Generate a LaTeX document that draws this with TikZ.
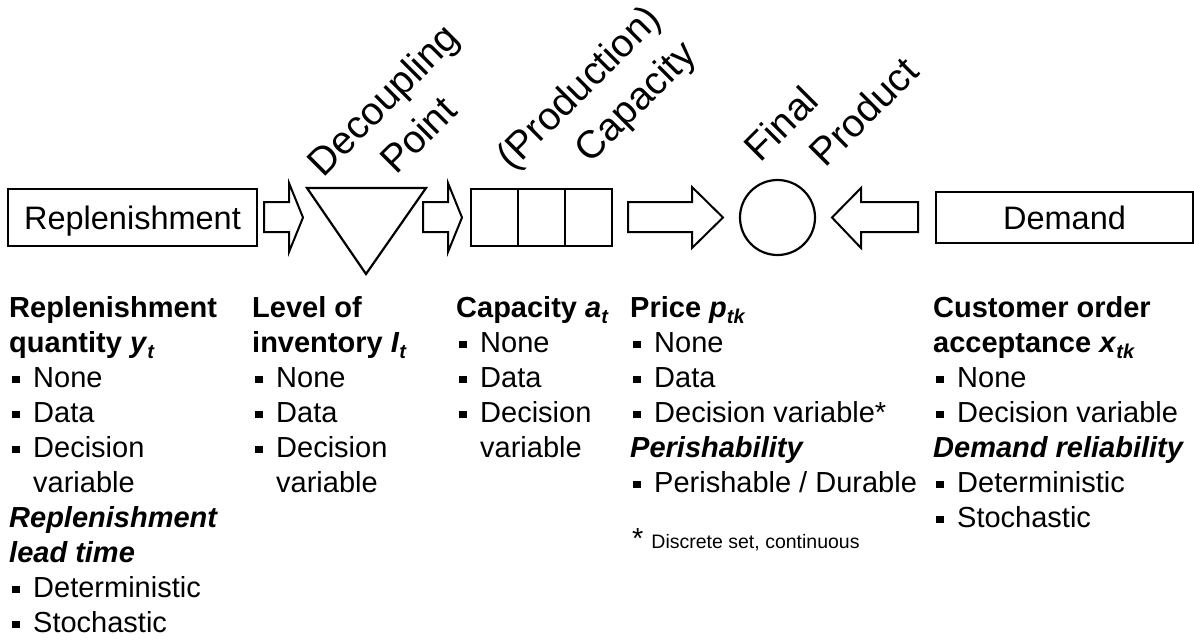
\documentclass[tikz,border=0pt]{standalone}
\usepackage{fontspec}
\setmainfont{Liberation Sans}
\usetikzlibrary{calc}

% type sizes (1pt = one pixel of the page)
\newcommand\bodyfont{\fontsize{29}{35}\selectfont}
\newcommand\labelfont{\fontsize{39}{50}\selectfont}
\newcommand\boxfont{\fontsize{32.5}{40}\selectfont}
\newcommand\notefont{\fontsize{19.5}{23}\selectfont}
\newcommand\subfont{\fontsize{20}{20}\selectfont}

% list helpers: square bullet, hanging indent, bold-italic symbol with subscript
\newcommand\bul{\makebox[24pt][l]{\hspace{3pt}\rule[4pt]{7.5pt}{7.5pt}}}
\newcommand\hang{\hspace*{24pt}}
\newcommand\sym[2]{\textbf{\textit{#1}}\raisebox{-6pt}{\subfont\textbf{\textit{#2}}}}
\newcommand\bi[1]{\textbf{\textit{#1}}}

\begin{document}
\begin{tikzpicture}[x=1pt,y=-1pt,
  outline/.style={draw=black, line width=2.2pt},
  stage/.style={outline, rectangle, inner sep=0pt, font=\boxfont,
    text height=23pt, text depth=0pt},
  lbl/.style={rotate=45, inner sep=0pt, font=\labelfont},
  blockarrow/.style={draw=black, line width=2pt, line join=miter, fill=white},
  col/.style={anchor=north west, inner sep=0pt, align=left, font=\bodyfont},
  note/.style={anchor=base west, inner sep=0pt}]

\useasboundingbox (0,0) rectangle (1194,641);

% stages of the chain
\node[stage, minimum width=249pt, minimum height=57pt] (repl) at (132.5,217.5) {Replenishment};
\draw[outline, line join=miter] (307,188) -- (426,188) -- (366,274) -- cycle;
\node[stage, minimum width=141pt, minimum height=57pt] (cap) at (541.5,217.5) {};
\draw[outline] ($(cap.north west)!1/3!(cap.north east)$) -- ($(cap.south west)!1/3!(cap.south east)$);
\draw[outline] ($(cap.north west)!2/3!(cap.north east)$) -- ($(cap.south west)!2/3!(cap.south east)$);
\node[outline, circle, minimum size=75pt, inner sep=0pt] (prod) at (777.5,217.5) {};
\node[stage, minimum width=257pt, minimum height=51pt] (dem) at (1064.5,217.5) {Demand};

% flow arrows between the stages
\draw[blockarrow] (264,202) -- (289,202) -- (289,183) -- (303,217.5) -- (289,252) -- (289,232) -- (264,232) -- cycle;
\draw[blockarrow] (423,202) -- (448,202) -- (448,183) -- (462,217.5) -- (448,252) -- (448,232) -- (423,232) -- cycle;
\draw[blockarrow] (628,202) -- (692,202) -- (692,187) -- (723,217.5) -- (692,248) -- (692,232) -- (628,232) -- cycle;
\draw[blockarrow] (918,202) -- (861,202) -- (861,188) -- (832,217.5) -- (861,248) -- (861,232) -- (918,232) -- cycle;

% slanted captions above the stages
\node[lbl, align=center] (dpl) at (400,117) {Decoupling\\Point};
\node[lbl, align=right] (pcl) at (598,107) {(Production)\\Capacity};
\node[lbl, align=left] (fpl) at (831.1,108.5) {Final\\\hspace*{42pt}Product};

% attributes of each stage
\node[col] (c1) at (9,296) {%
  \textbf{Replenishment}\\
  \textbf{quantity} \sym{y}{t}\\
  \bul None\\
  \bul Data\\
  \bul Decision\\
  \hang variable\\
  \bi{Replenishment}\\
  \bi{lead time}\\
  \bul Deterministic\\
  \bul Stochastic};

\node[col] (c2) at (252,296) {%
  \textbf{Level of}\\
  \textbf{inventory} \sym{I}{t}\\
  \bul None\\
  \bul Data\\
  \bul Decision\\
  \hang variable};

\node[col] (c3) at (456,296) {%
  \textbf{Capacity} \sym{a}{t}\\
  \bul None\\
  \bul Data\\
  \bul Decision\\
  \hang variable};

\node[col] (c4) at (630,296) {%
  \textbf{Price} \sym{p}{tk}\\
  \bul None\\
  \bul Data\\
  \bul Decision variable*\\
  \bi{Perishability}\\
  \bul Perishable / Durable};

\node[col] (c5) at (933,296) {%
  \textbf{Customer order}\\
  \textbf{acceptance} \sym{x}{tk}\\
  \bul None\\
  \bul Decision variable\\
  \bi{Demand reliability}\\
  \bul Deterministic\\
  \bul Stochastic};

\node[note] (fn) at (632,548) {{\bodyfont *}\hspace{8pt}{\notefont Discrete set, continuous}};

\end{tikzpicture}
\end{document}
